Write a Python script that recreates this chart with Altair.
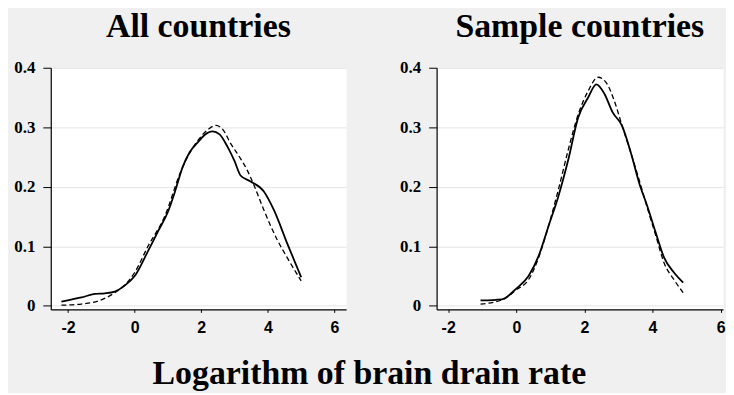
import altair as alt
import pandas as pd

# All countries panel
all_solid_x = [-2.2, -1.6, -1.2, -0.9, -0.6, -0.3, 0.0, 0.4, 0.7, 1.0, 1.2, 1.44, 1.65, 1.9, 2.1, 2.34, 2.55, 2.79, 3.0, 3.18, 3.48, 3.88, 4.18, 4.58, 5.0]
all_solid_y = [0.007, 0.014, 0.020, 0.021, 0.024, 0.034, 0.050, 0.092, 0.125, 0.158, 0.190, 0.233, 0.258, 0.275, 0.287, 0.293, 0.288, 0.267, 0.243, 0.219, 0.209, 0.192, 0.161, 0.105, 0.048]
all_dashed_x = [-2.2, -1.6, -1.1, -0.6, -0.3, 0.0, 0.4, 0.9, 1.4, 1.9, 2.2, 2.44, 2.65, 2.89, 3.15, 3.38, 3.58, 3.88, 4.28, 4.58, 5.0]
all_dashed_y = [0.001, 0.003, 0.008, 0.022, 0.035, 0.056, 0.100, 0.150, 0.228, 0.278, 0.296, 0.303, 0.296, 0.272, 0.250, 0.228, 0.203, 0.161, 0.111, 0.081, 0.042]

# Sample countries panel
smp_solid_x = [-1.05, -0.42, 0.0, 0.36, 0.65, 0.94, 1.23, 1.52, 1.82, 2.11, 2.35, 2.59, 2.83, 3.1, 3.37, 3.61, 3.85, 4.1, 4.34, 4.63, 4.9]
smp_solid_y = [0.009, 0.011, 0.029, 0.050, 0.083, 0.133, 0.183, 0.244, 0.317, 0.350, 0.372, 0.356, 0.325, 0.303, 0.256, 0.206, 0.167, 0.122, 0.081, 0.056, 0.039]
smp_dashed_x = [-1.05, -0.42, 0.0, 0.36, 0.65, 0.94, 1.23, 1.52, 1.82, 2.11, 2.4, 2.64, 2.88, 3.12, 3.37, 3.61, 3.85, 4.1, 4.34, 4.63, 4.9]
smp_dashed_y = [0.003, 0.010, 0.027, 0.044, 0.080, 0.133, 0.194, 0.261, 0.322, 0.361, 0.384, 0.375, 0.344, 0.300, 0.256, 0.211, 0.164, 0.117, 0.072, 0.044, 0.022]

x_ticks = [-2, 0, 2, 4, 6]
y_ticks = [0, 0.1, 0.2, 0.3, 0.4]

SERIF = "Liberation Serif"


def panel(title, sx, sy, dx, dy, width, xdom):
    solid = pd.DataFrame({"x": sx, "y": sy})
    dashed = pd.DataFrame({"x": dx, "y": dy})
    xenc = alt.X(
        "x:Q",
        scale=alt.Scale(domain=xdom, nice=False, zero=False),
        axis=alt.Axis(
            values=x_ticks, title=None, grid=False,
            labelExpr="datum.value < 0 ? '-' + abs(datum.value) : '' + datum.value",
            tickSize=3, labelPadding=7, labelFont="Liberation Sans",
            labelFontWeight="bold", labelFontSize=16,
        ),
    )
    yenc = alt.Y(
        "y:Q",
        scale=alt.Scale(domain=[-0.006, 0.4], nice=False, zero=False),
        axis=alt.Axis(
            values=y_ticks, title=None, grid=True, gridColor="#e4e4e4",
            labelExpr="datum.value == 0 ? '0' : format(datum.value, '.1f')",
            tickSize=8, labelPadding=8, labelFont=SERIF,
            labelFontWeight="bold", labelFontSize=17,
        ),
    )
    l1 = alt.Chart(solid).mark_line(
        color="black", strokeWidth=1.8, interpolate="monotone"
    ).encode(x=xenc, y=yenc)
    l2 = alt.Chart(dashed).mark_line(
        color="black", strokeWidth=1.3, strokeDash=[5, 3], interpolate="monotone"
    ).encode(x=xenc, y=yenc)
    return alt.layer(l1, l2).properties(
        width=width,
        height=243,
        title=alt.TitleParams(
            title, font=SERIF, fontSize=34, fontWeight="bold",
            color="black", offset=15, anchor="middle",
        ),
    )


left = panel("All countries", all_solid_x, all_solid_y, all_dashed_x, all_dashed_y, 297, [-2.52, 6.35])
right = panel("Sample countries", smp_solid_x, smp_solid_y, smp_dashed_x, smp_dashed_y, 288, [-2.34, 6.07])

chart = (
    alt.hconcat(left, right, spacing=52)
    .properties(
        title=alt.TitleParams(
            "Logarithm of brain drain rate", orient="bottom", anchor="middle",
            font=SERIF, fontSize=34, fontWeight="bold", color="black", offset=22,
        ),
        background="#f0f0f0",
        padding={"left": 5, "top": 0, "right": 0, "bottom": 0},
    )
    .configure_view(fill="white", stroke="transparent")
    .configure_axis(domainColor="black", tickColor="black", labelColor="black", domainWidth=1.2)
)

chart.save("out.html", embed_options={"renderer": "svg", "actions": False})
